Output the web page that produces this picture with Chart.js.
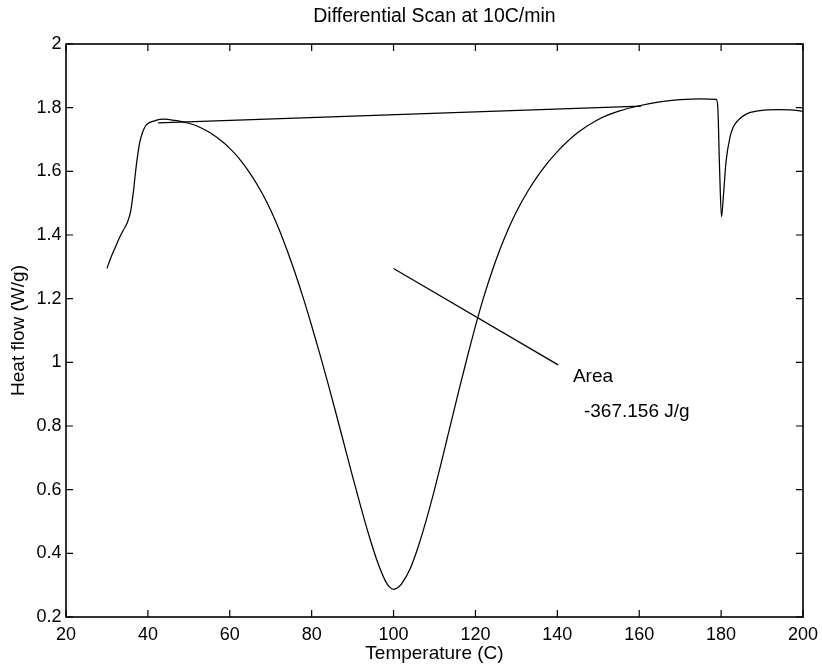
<!DOCTYPE html>
<html>
<head>
<meta charset="utf-8">
<script src="https://cdn.jsdelivr.net/npm/chart.js@4"></script>
<style>
  html, body { margin: 0; padding: 0; background: #fff; }
  #wrap { width: 822px; height: 669px; }
</style>
</head>
<body>
<div id="wrap"><canvas id="c" width="822" height="669"></canvas></div>
<script>
// Measured DSC trace: temperature (C) and heat flow (W/g)
const temps = [30, 31, 32, 33, 34, 35, 35.8, 36.5, 37, 37.5, 38, 38.5, 39, 39.5, 40, 41, 42, 43, 44, 45,
  46, 48, 50, 52, 55, 58, 60, 62, 65, 68, 70, 72, 74, 76, 78, 80, 82, 84, 86, 88,
  90, 92, 94, 96, 98, 99, 100, 101, 102, 104, 106, 108, 110, 112, 113, 114, 116, 118, 120, 122,
  124, 126, 128, 130, 133, 136, 140, 145, 150, 155, 160, 165, 170, 175, 178.8, 179.2, 179.6, 180.1, 180.6, 181.2,
  182.2, 183, 184.2, 185.5, 187.1, 189, 191.2, 194, 197, 199.3, 200];
const heatFlow = [1.295, 1.33, 1.36, 1.39, 1.415, 1.44, 1.475, 1.54, 1.60, 1.65, 1.69, 1.715, 1.732, 1.744, 1.750, 1.756, 1.760, 1.763, 1.764, 1.763,
  1.761, 1.757, 1.751, 1.7425, 1.7225, 1.695, 1.672, 1.6445, 1.593, 1.529, 1.478, 1.419, 1.352, 1.279, 1.200, 1.115, 1.026, 0.933, 0.837, 0.739,
  0.641, 0.546, 0.456, 0.376, 0.3135, 0.2945, 0.287, 0.292, 0.305, 0.35, 0.42, 0.505, 0.60, 0.703, 0.756, 0.809, 0.914, 1.016, 1.114, 1.204,
  1.284, 1.355, 1.418, 1.473, 1.542, 1.60, 1.662, 1.722, 1.763, 1.789, 1.806, 1.818, 1.825, 1.828, 1.826, 1.80, 1.62, 1.457, 1.53, 1.63,
  1.709, 1.74, 1.761, 1.775, 1.785, 1.79, 1.793, 1.794, 1.793, 1.790, 1.788];

// Integration baseline under the melting peak
const baseTemps = [42.5, 160.5];
const baseHeat = [1.752, 1.805];

// Pointer line from the peak area to its label
const pointerTemps = [100, 140.2];
const pointerHeat = [1.295, 0.992];

// Axis ticks
const xTicks = [20, 40, 60, 80, 100, 120, 140, 160, 180, 200];
const yTicks = [0.2, 0.4, 0.6, 0.8, 1, 1.2, 1.4, 1.6, 1.8, 2];

// Texts
const chartTitle = 'Differential Scan at 10C/min';
const areaTitle = 'Area';
const areaValue = '-367.156 J/g';
// Label anchors (data units)
const areaTitleAt = [143.8, 0.939];
const areaValueAt = [146.5, 0.829];

const FONT = "'Liberation Sans', Arial, Helvetica, sans-serif";

function pts(xs, ys) { return xs.map((x, i) => ({ x: x, y: ys[i] })); }

// Box around the plot, inward ticks on all four sides, title and the area label
const framePlugin = {
  id: 'frame',
  afterDatasetsDraw(chart) {
    const { ctx, chartArea: a, scales: { x, y } } = chart;
    const tl = 7;
    ctx.save();
    ctx.strokeStyle = '#000';
    ctx.lineWidth = 1.2;
    ctx.beginPath();
    xTicks.forEach(v => {
      const px = x.getPixelForValue(v);
      ctx.moveTo(px, a.bottom); ctx.lineTo(px, a.bottom - tl);
      ctx.moveTo(px, a.top); ctx.lineTo(px, a.top + tl);
    });
    yTicks.forEach(v => {
      const py = y.getPixelForValue(v);
      ctx.moveTo(a.left, py); ctx.lineTo(a.left + tl, py);
      ctx.moveTo(a.right, py); ctx.lineTo(a.right - tl, py);
    });
    ctx.stroke();
    ctx.lineWidth = 1.6;
    ctx.strokeRect(a.left, a.top, a.right - a.left, a.bottom - a.top);

    ctx.fillStyle = '#000';
    ctx.font = '19.5px ' + FONT;
    ctx.textAlign = 'center';
    ctx.textBaseline = 'middle';
    ctx.fillText(chartTitle, (a.left + a.right) / 2, 17);

    ctx.font = '19px ' + FONT;
    ctx.textAlign = 'left';
    ctx.textBaseline = 'alphabetic';
    ctx.fillText(areaTitle, x.getPixelForValue(areaTitleAt[0]), y.getPixelForValue(areaTitleAt[1]));
    ctx.fillText(areaValue, x.getPixelForValue(areaValueAt[0]), y.getPixelForValue(areaValueAt[1]));
    ctx.restore();
  }
};

const lineStyle = { borderColor: '#000', borderWidth: 1.25, pointRadius: 0, fill: false };

new Chart(document.getElementById('c'), {
  type: 'line',
  data: {
    datasets: [
      Object.assign({ label: 'Heat flow', data: pts(temps, heatFlow), cubicInterpolationMode: 'monotone' }, lineStyle),
      Object.assign({ label: 'Baseline', data: pts(baseTemps, baseHeat), tension: 0 }, lineStyle),
      Object.assign({ label: 'Pointer', data: pts(pointerTemps, pointerHeat), tension: 0 }, lineStyle)
    ]
  },
  options: {
    responsive: false,
    animation: false,
    devicePixelRatio: 1,
    layout: { padding: { left: 0, right: 19, top: 44, bottom: 0 } },
    plugins: {
      legend: { display: false },
      tooltip: { enabled: false },
      title: { display: false }
    },
    scales: {
      x: {
        type: 'linear',
        min: 20, max: 200,
        afterBuildTicks(s) { s.ticks = xTicks.map(v => ({ value: v })); },
        afterFit(s) { s.height = 52; s.paddingLeft = 0; s.paddingRight = 0; },
        grid: { display: true, drawOnChartArea: false, drawTicks: false },
        border: { display: false },
        ticks: { color: '#000', padding: 7.5, maxRotation: 0, autoSkip: false, font: { family: FONT, size: 18 } },
        title: { display: true, text: 'Temperature (C)', color: '#000', padding: { top: 0, bottom: 4 }, font: { family: FONT, size: 19 } }
      },
      y: {
        type: 'linear',
        min: 0.2, max: 2,
        afterBuildTicks(s) { s.ticks = yTicks.map(v => ({ value: v })); },
        afterFit(s) { s.width = 66; s.paddingTop = 0; s.paddingBottom = 0; },
        grid: { display: true, drawOnChartArea: false, drawTicks: false },
        border: { display: false },
        ticks: { color: '#000', padding: 4.5, autoSkip: false, font: { family: FONT, size: 18 },
          callback: v => String(+v.toFixed(1)) },
        title: { display: true, text: 'Heat flow (W/g)', color: '#000', padding: { top: 7, bottom: 0 }, font: { family: FONT, size: 19 } }
      }
    }
  },
  plugins: [framePlugin]
});
</script>
</body>
</html>
